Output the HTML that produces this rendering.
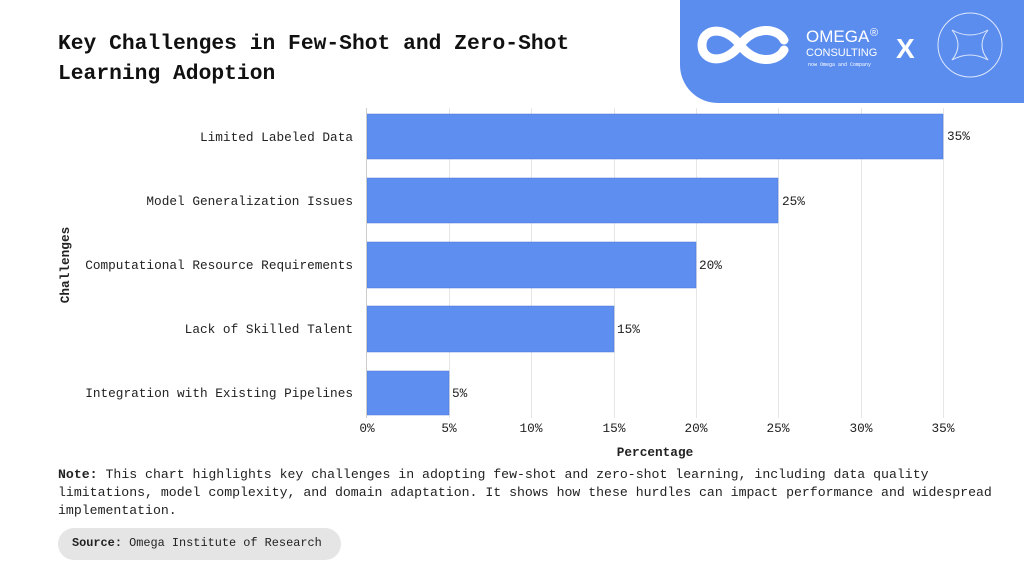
<!DOCTYPE html>
<html><head><meta charset="utf-8"><style>
body{margin:0;width:1024px;height:576px;background:#fff;position:relative;overflow:hidden;font-family:"Liberation Mono",monospace;color:#222}
.t{position:absolute;white-space:nowrap}
</style></head><body>
<div class="t" style="left:58px;top:29px;font-size:21.3px;font-weight:bold;line-height:30px;color:#111">Key Challenges in Few-Shot and Zero-Shot<br>Learning Adoption</div>
<div style="position:absolute;left:680px;top:0;width:344px;height:103px;background:#5b8def;border-bottom-left-radius:38px"></div>
<svg style="position:absolute;left:680px;top:0" width="344" height="103">
<path d="M60 45 C45 25 22 28 22 45 C22 62 45 65 60 45 C75 25 98 28 104 40" stroke="#fff" stroke-width="9" fill="none" stroke-linecap="round"/>
<path d="M60 45 C75 65 98 62 104 50" stroke="#fff" stroke-width="9" fill="none" stroke-linecap="round"/>
<text x="126" y="42" fill="#fff" font-family="Liberation Sans" font-size="17">OMEGA</text>
<text x="190" y="36" fill="#fff" font-family="Liberation Sans" font-size="11">®</text>
<text x="126" y="56" fill="#fff" font-family="Liberation Sans" font-size="11">CONSULTING</text>
<text x="128" y="66" fill="#fff" font-family="Liberation Mono" font-size="5">now Omega and Company</text>
<text x="216" y="58" fill="#fff" font-family="Liberation Sans" font-weight="bold" font-size="28">X</text>
<circle cx="290" cy="45" r="32" stroke="#fff" stroke-width="1" fill="none" opacity="0.8"/>
<path d="M272 30 Q290 40 308 30 Q296 45 308 60 Q290 50 272 60 Q284 45 272 30Z" fill="none" stroke="#fff" stroke-width="1" opacity="0.8"/>
</svg>
<svg style="position:absolute;left:0;top:0" width="1024" height="576">
<g stroke="#e6e6e6" stroke-width="1">
<line x1="449.5" y1="108" x2="449.5" y2="418"/><line x1="531.5" y1="108" x2="531.5" y2="418"/>
<line x1="614.5" y1="108" x2="614.5" y2="418"/><line x1="696.5" y1="108" x2="696.5" y2="418"/>
<line x1="778.5" y1="108" x2="778.5" y2="418"/><line x1="861.5" y1="108" x2="861.5" y2="418"/>
<line x1="943.5" y1="108" x2="943.5" y2="418"/>
</g>
<g fill="#5e8ef0" stroke="#4a78d8" stroke-width="0.5">
<rect x="367" y="114" width="576" height="45"/>
<rect x="367" y="178" width="411" height="45"/>
<rect x="367" y="242" width="329" height="46"/>
<rect x="367" y="306" width="247" height="46"/>
<rect x="367" y="371" width="82" height="44"/>
</g>
<line x1="366.5" y1="108" x2="366.5" y2="418" stroke="#ccc"/>
<g font-family="Liberation Mono" font-size="12.75" fill="#222">
<g text-anchor="end">
<text x="353" y="141">Limited Labeled Data</text>
<text x="353" y="205">Model Generalization Issues</text>
<text x="353" y="269">Computational Resource Requirements</text>
<text x="353" y="333">Lack of Skilled Talent</text>
<text x="353" y="397">Integration with Existing Pipelines</text>
</g>
<text x="947" y="140">35%</text><text x="782" y="205">25%</text><text x="699" y="269">20%</text><text x="617" y="333">15%</text><text x="452" y="397">5%</text>
<g text-anchor="middle">
<text x="367" y="432">0%</text><text x="449" y="432">5%</text><text x="531" y="432">10%</text><text x="614" y="432">15%</text><text x="696" y="432">20%</text><text x="778" y="432">25%</text><text x="861" y="432">30%</text><text x="943" y="432">35%</text>
<text x="655" y="456" font-weight="bold">Percentage</text>
<text transform="translate(69,265) rotate(-90)" font-weight="bold">Challenges</text>
</g>
</g>
</svg>
<div class="t" style="left:58px;top:466px;font-size:13.2px;line-height:18px;color:#222"><b>Note:</b> This chart highlights key challenges in adopting few-shot and zero-shot learning, including data quality<br>limitations, model complexity, and domain adaptation. It shows how these hurdles can impact performance and widespread<br>implementation.</div>
<div style="position:absolute;left:58px;top:528px;width:283px;height:32px;background:#e5e5e5;border-radius:16px"></div>
<div class="t" style="left:72px;top:536px;font-size:11.9px;color:#222"><b>Source:</b> Omega Institute of Research</div>
</body></html>
